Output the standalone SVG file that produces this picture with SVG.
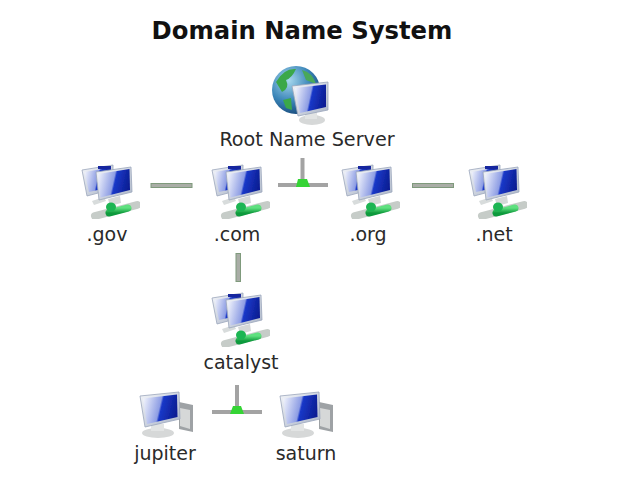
<svg xmlns="http://www.w3.org/2000/svg" width="632" height="480" viewBox="0 0 632 480">
<style>
text{font-family:"DejaVu Sans",Verdana,sans-serif;fill:#2a2a2a;text-anchor:middle;font-size:19px}
.title{font-weight:bold;font-size:24.300px;fill:#111}
.root-label{font-size:19.200px}
.bar{fill:#a9ada6;stroke:#7f9a7c;stroke-width:1}
.stem{fill:#a3a3a3}
.hub{fill:#35d435}
</style>
<defs>
<linearGradient id="scr" x1="0" y1="0.1" x2="1" y2="0.3">
<stop offset="0" stop-color="#f4f6fc"/><stop offset="0.52" stop-color="#8d9de4"/><stop offset="0.58" stop-color="#1a38c8"/><stop offset="1" stop-color="#0c1f96"/>
</linearGradient>
<linearGradient id="frame" x1="0" y1="0" x2="1" y2="1">
<stop offset="0" stop-color="#f4f6fa"/><stop offset="1" stop-color="#aab4c6"/>
</linearGradient>
<linearGradient id="green" x1="0" y1="0" x2="0" y2="1">
<stop offset="0" stop-color="#5fe07f"/><stop offset="1" stop-color="#0e9a3c"/>
</linearGradient>
<radialGradient id="globe" cx="0.35" cy="0.3" r="0.8">
<stop offset="0" stop-color="#a8d8ee"/><stop offset="0.55" stop-color="#3a85b8"/><stop offset="1" stop-color="#123f70"/>
</radialGradient>
<filter id="soft" x="-5%" y="-5%" width="110%" height="110%"><feGaussianBlur stdDeviation="0.5"/></filter>
<g id="twin" filter="url(#soft)">
<polygon points="82,170 113,165 113,189 87,196" fill="url(#frame)" stroke="#9aa6bb" stroke-width="0.8"/>
<polygon points="84.500,172 111,167.500 111,187 89,192" fill="url(#scr)"/>
<rect x="98" y="166" width="13" height="3" fill="#14289e"/>
<path d="M92,201 L104,197 L106,201 L94,205Z" fill="#d8dcdc"/>
<polygon points="96,172 131,167 132,192 99,200" fill="url(#frame)" stroke="#9aa6bb" stroke-width="0.8"/>
<polygon points="98,174 129.500,169 130,190 100.500,197.500" fill="url(#scr)"/>
<path d="M108,199 L120,196 L121,203 L110,206Z" fill="#d5d8d8"/>
<path d="M95,216 L137,205" stroke="#c6ccc8" stroke-width="8" stroke-linecap="round" fill="none"/>
<path d="M109,213 L128,208" stroke="url(#green)" stroke-width="7" stroke-linecap="round" fill="none"/>
<ellipse cx="111" cy="207" rx="5" ry="4.500" fill="#1fb552"/>
</g>
<g id="single" filter="url(#soft)">
<polygon points="179,402 193,405 193,432 179,429" fill="#9ea2a5"/>
<polygon points="180,408 190,410 190,429 180,426" fill="#d6d8d8"/>
<ellipse cx="158" cy="433" rx="16" ry="5" fill="#d6d8d8"/>
<rect x="151" y="424" width="13" height="7" fill="#e2e4e4"/>
<polygon points="140,396 179,392 180,419 145,427" fill="url(#frame)" stroke="#9aa6bb" stroke-width="0.8"/>
<polygon points="143,398.500 177,394.500 177.500,417 147,424" fill="url(#scr)"/>
</g>
</defs>
<text class="title" x="302" y="39">Domain Name System</text>
<g id="connectors">
<rect class="bar" x="151" y="183.500" width="41" height="4"/>
<rect class="bar" x="412.500" y="183.500" width="41" height="4"/>
<rect class="bar" x="236" y="253.500" width="4.500" height="28"/>
<g id="root-tee">
<rect class="stem" x="300.500" y="158" width="4" height="26"/>
<rect class="stem" x="278" y="183" width="50" height="4"/>
<path class="hub" d="M296,187 L298,179 L307,179 L310,187Z"/>
</g>
<g id="catalyst-tee">
<rect class="stem" x="235" y="385" width="4" height="26"/>
<rect class="stem" x="212" y="410" width="50" height="4"/>
<path class="hub" d="M230,414 L233,406 L241,406 L244,414Z"/>
</g>
</g>
<g id="root">
<g filter="url(#soft)">
<circle cx="296" cy="90" r="24" fill="url(#globe)"/>
<path d="M276,82 Q284,68 296,69 Q292,78 286,80 Q290,88 282,92Z" fill="#3aa84a"/>
<path d="M283,100 L291,98 L292,110 L286,108Z" fill="#3aa84a"/>
<path d="M302,70 Q312,72 316,84 L306,80Z" fill="#4aa85a"/>
<ellipse cx="312" cy="120" rx="13" ry="5" fill="#d6d8d8"/>
<rect x="305" y="112" width="12" height="7" fill="#e2e4e4"/>
<polygon points="292,86 328,82 328,110 298,116" fill="url(#frame)" stroke="#9aa6bb" stroke-width="0.8"/>
<polygon points="295,88 326,84.500 326,107 300,113" fill="url(#scr)"/>
</g>
<text class="root-label" x="307" y="146">Root Name Server</text>
</g>
<g id="gov"><use href="#twin"/><text x="107" y="241">.gov</text></g>
<g id="com"><use href="#twin" x="130"/><text x="237" y="241">.com</text></g>
<g id="org"><use href="#twin" x="260"/><text x="368" y="241">.org</text></g>
<g id="net"><use href="#twin" x="387"/><text x="494" y="241">.net</text></g>
<g id="catalyst"><use href="#twin" x="130" y="128"/><text x="241" y="369">catalyst</text></g>
<g id="jupiter"><use href="#single"/><text x="165" y="460">jupiter</text></g>
<g id="saturn"><use href="#single" x="140"/><text x="306" y="460">saturn</text></g>
</svg>
